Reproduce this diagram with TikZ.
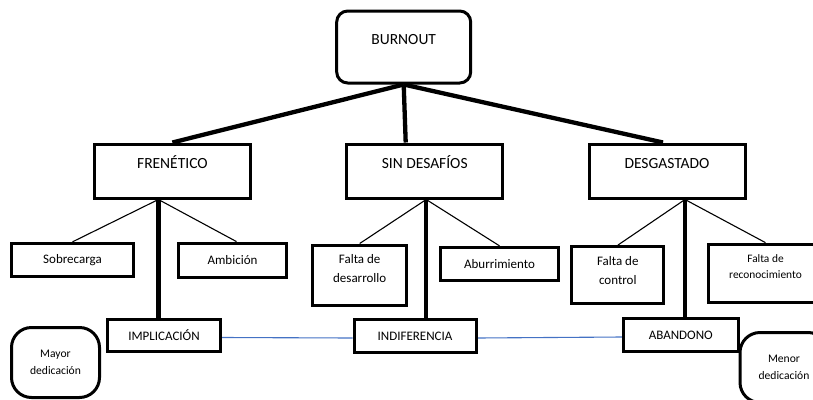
\documentclass[tikz,border=0pt]{standalone}
\usepackage{fontspec}
\setmainfont{Carlito}
\usepackage{tikz}
\usetikzlibrary{positioning,calc,backgrounds}
\definecolor{linkblue}{HTML}{4472C4}
\definecolor{ink}{HTML}{000000}

\begin{document}
\begin{tikzpicture}[
  x=1pt, y=-1pt,
  box/.style={rectangle, draw=ink, fill=white, line width=3pt, align=center,
    inner sep=2pt},
  title/.style={box, minimum width=156pt, minimum height=54pt,
    font=\fontsize{15.5}{18}\selectfont, text height=11pt, text depth=17pt},
  cause/.style={box, font=\fontsize{13}{19}\selectfont},
  state/.style={box, minimum height=32.5pt, font=\fontsize{13}{16}\selectfont},
  pole/.style={box, rounded corners=20pt, minimum width=88pt, minimum height=70pt,
    font=\fontsize{11.6}{16.5}\selectfont},
  heavy/.style={line width=4.3pt, draw=ink},
  branch/.style={line width=1.1pt, draw=ink},
  link/.style={line width=1.1pt, draw=linkblue}
]
\useasboundingbox (0,0) rectangle (813,399);
\clip (0,0) rectangle (813,399);

% Top
\node[box, rounded corners=11pt, minimum width=134pt, minimum height=72pt,
  font=\fontsize{15.5}{18}\selectfont, text height=11pt, text depth=17pt]
  (burnout) at (403.7,47) {BURNOUT};

% Row 1: profiles
\node[title] (frenetico) at (172.4,171) {FRENÉTICO};
\node[title] (sindesafios) at (424.7,171) {SIN DESAFÍOS};
\node[title] (desgastado) at (667,171) {DESGASTADO};

% Row 2: causes
\node[cause, minimum width=121.6pt, minimum height=32.7pt] (sobrecarga) at (72.5,259.7) {Sobrecarga};
\node[cause, minimum width=108pt, minimum height=34.4pt] (ambicion) at (232.5,260.3) {Ambición};
\node[cause, minimum width=94pt, minimum height=60pt, text depth=13pt] (desarrollo) at (359.7,275) {Falta de\\desarrollo};
\node[cause, minimum width=117.6pt, minimum height=32.7pt] (aburrimiento) at (499.5,263.7) {Aburrimiento};
\node[cause, minimum width=92.3pt, minimum height=56.7pt, text depth=9pt] (control) at (617.8,275) {Falta de\\control};
\node[cause, minimum width=114pt, minimum height=58.7pt, text depth=14pt,
  font=\fontsize{11.4}{16.4}\selectfont] (reconocimiento) at (765.5,273.5) {Falta de\\reconocimiento};

% Row 3: states
\node[state, minimum width=113.4pt] (implicacion) at (164,335.5) {IMPLICACIÓN};
\node[state, minimum width=122pt] (indiferencia) at (415,336) {INDIFERENCIA};
\node[state, minimum width=115pt] (abandono) at (680.8,335) {ABANDONO};

% Poles
\node[pole] (mayor) at (55.5,362.5) {Mayor\\dedicación};
\node[pole] (menor) at (784,367.5) {Menor\\dedicación};

% Forks under each profile
\coordinate (f1) at ([xshift=-14pt]frenetico.south);
\coordinate (f2) at ([xshift=1.5pt]sindesafios.south);
\coordinate (f3) at ([xshift=18pt]desgastado.south);

\begin{scope}[on background layer]
\draw[heavy] (burnout.south) -- (frenetico.north);
\draw[heavy] (burnout.south) -- ([xshift=-19pt]sindesafios.north);
\draw[heavy] (burnout.south) -- ([xshift=-4pt]desgastado.north);

\draw[heavy] (f1) -- (f1 |- implicacion.north);
\draw[heavy] (f2) -- (f2 |- indiferencia.north);
\draw[heavy] (f3) -- (f3 |- abandono.north);

\draw[branch] (f1) -- (sobrecarga.north);
\draw[branch] (f1) -- ([xshift=4pt]ambicion.north);
\draw[branch] (f2) -- (desarrollo.north);
\draw[branch] (f2) -- (aburrimiento.north);
\draw[branch] (f3) -- (control.north);
\draw[branch] (f3) -- (reconocimiento.north);

\draw[link] ([yshift=-2pt]implicacion.east) -- ([yshift=-2pt]indiferencia.west);
\draw[link] ([yshift=-2pt]indiferencia.east) -- ([yshift=-2pt]abandono.west);
\end{scope}

\end{tikzpicture}
\end{document}
